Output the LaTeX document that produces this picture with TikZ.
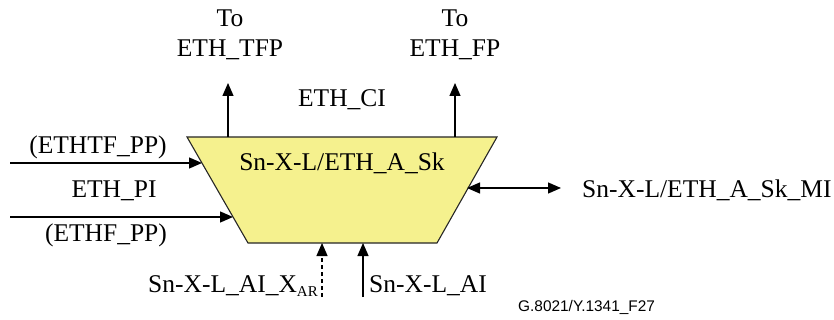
\documentclass[tikz,border=0pt]{standalone}
\usepackage{fontspec}
\setmainfont{Liberation Serif}
\setsansfont{Liberation Sans}
\usetikzlibrary{arrows.meta}
\definecolor{trapfill}{RGB}{245,241,142}
\tikzset{
  conn/.style={line width=1.3pt,-{Triangle[length=13pt,width=11pt]}},
  dconn/.style={conn,dash pattern=on 4pt off 3pt},
  biconn/.style={line width=1.3pt,{Triangle[length=13pt,width=11pt]}-{Triangle[length=13pt,width=11pt]}},
  lbl/.style={inner sep=0pt,font=\fontsize{25.5}{30}\selectfont},
  ref/.style={inner sep=0pt,font=\sffamily\fontsize{15.4}{18}\selectfont}
}
\begin{document}
\begin{tikzpicture}[x=1pt,y=-1pt]
\useasboundingbox (0,0) rectangle (834,320);
% trapezoid
\coordinate (tl) at (187,137);
\coordinate (tr) at (497,137);
\coordinate (br) at (437,243);
\coordinate (bl) at (248,243);
\filldraw[fill=trapfill,draw=black!85,line width=1.1pt] (tl) -- (tr) -- (br) -- (bl) -- cycle;
\node[lbl] (main) at (342,163) {Sn-X-L/ETH\_A\_Sk};
% top outputs
\coordinate (o1s) at (228,137);
\coordinate (o1e) at (228,83);
\coordinate (o2s) at (455,137);
\coordinate (o2e) at (455,83);
\draw[conn] (o1s) -- (o1e);
\draw[conn] (o2s) -- (o2e);
\node[lbl,align=center,anchor=center] (tfp) at (230,35) {To\\ETH\_TFP};
\node[lbl,align=center,anchor=center] (fp) at (455,35) {To\\ETH\_FP};
\node[lbl] (ci) at (342,100) {ETH\_CI};
% left inputs
\coordinate (i1s) at (10,163);
\coordinate (i1e) at (202,163);
\coordinate (i2s) at (10,217);
\coordinate (i2e) at (233,217);
\draw[conn] (i1s) -- (i1e);
\draw[conn] (i2s) -- (i2e);
\node[lbl] (ethtf) at (98,147) {(ETHTF\_PP)};
\node[lbl] (ethpi) at (114,191) {ETH\_PI};
\node[lbl] (ethf) at (106,235) {(ETHF\_PP)};
% bottom inputs
\coordinate (b1s) at (322,297);
\coordinate (b1e) at (322,243);
\coordinate (b2s) at (363,297);
\coordinate (b2e) at (363,243);
\draw[dconn] (b1s) -- (b1e);
\draw[conn] (b2s) -- (b2e);
\node[lbl,anchor=base east] (aix) at (318,292) {Sn-X-L\_AI\_X\raisebox{-0.35ex}{\fontsize{15}{15}\selectfont AR}};
\node[lbl,anchor=base west] (ai) at (369,292) {Sn-X-L\_AI};
% management
\coordinate (m1) at (467,188);
\coordinate (m2) at (561,188);
\draw[biconn] (m1) -- (m2);
\node[lbl,anchor=west] (mi) at (582,190) {Sn-X-L/ETH\_A\_Sk\_MI};
% reference
\node[ref,anchor=west] (fig) at (518,307) {G.8021/Y.1341\_F27};
\end{tikzpicture}
\end{document}
